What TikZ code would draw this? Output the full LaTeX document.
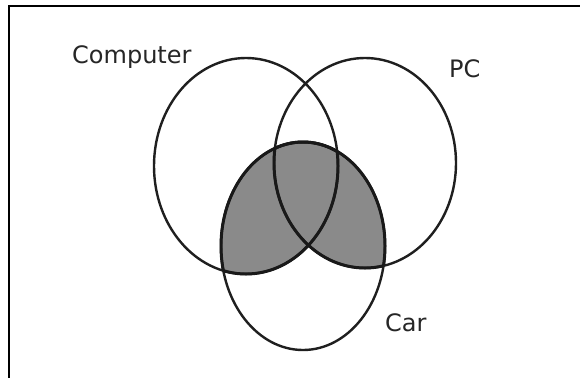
\documentclass[tikz,border=0pt]{standalone}
\usepackage{fontspec}
\setmainfont{DejaVu Sans}
\begin{document}
\begin{tikzpicture}[x=1pt,y=-1pt,
  setline/.style={line width=2.4pt,draw=black!88},
  edge/.style={line width=3.0pt,draw=black!90},
  lbl/.style={inner sep=0pt,anchor=base west,font=\fontsize{24}{28}\selectfont,text=black!85}]
\useasboundingbox (0,0) rectangle (580,378);
\fill[white] (0,0) rectangle (580,378);
% frame
\coordinate (tl) at (9,6);
\coordinate (tr) at (580,6);
\coordinate (bl) at (9,378);
\draw[line width=2pt] (tr) -- (tl) -- (bl);
% centres
\coordinate (cc) at (246,166);
\coordinate (pc) at (365,163);
\coordinate (ca) at (303,246);
% shaded region: Car ∩ (Computer ∪ PC)
\begin{scope}
  \clip (ca) ellipse [x radius=82, y radius=104];
  \fill[fill={rgb,255:red,138;green,138;blue,138}] (cc) ellipse [x radius=92, y radius=108];
  \fill[fill={rgb,255:red,138;green,138;blue,138}] (pc) ellipse [x radius=91, y radius=105];
\end{scope}
% outlines
\draw[setline] (cc) ellipse [x radius=92, y radius=108];
\draw[setline] (pc) ellipse [x radius=91, y radius=105];
\draw[setline] (ca) ellipse [x radius=82, y radius=104];
% bolder edge of shaded region
\begin{scope}
  \clip (cc) ellipse [x radius=92, y radius=108];
  \draw[edge] (ca) ellipse [x radius=82, y radius=104];
\end{scope}
\begin{scope}
  \clip (pc) ellipse [x radius=91, y radius=105];
  \draw[edge] (ca) ellipse [x radius=82, y radius=104];
\end{scope}
\begin{scope}
  \clip (ca) ellipse [x radius=82, y radius=104];
  \draw[edge] (cc) ellipse [x radius=92, y radius=108];
  \draw[edge] (pc) ellipse [x radius=91, y radius=105];
\end{scope}
% labels
\node[lbl] (lcomp) at (72,63) {Computer};
\node[lbl] (lpc) at (449,77) {PC};
\node[lbl] (lcar) at (385,331) {Car};
\end{tikzpicture}
\end{document}
